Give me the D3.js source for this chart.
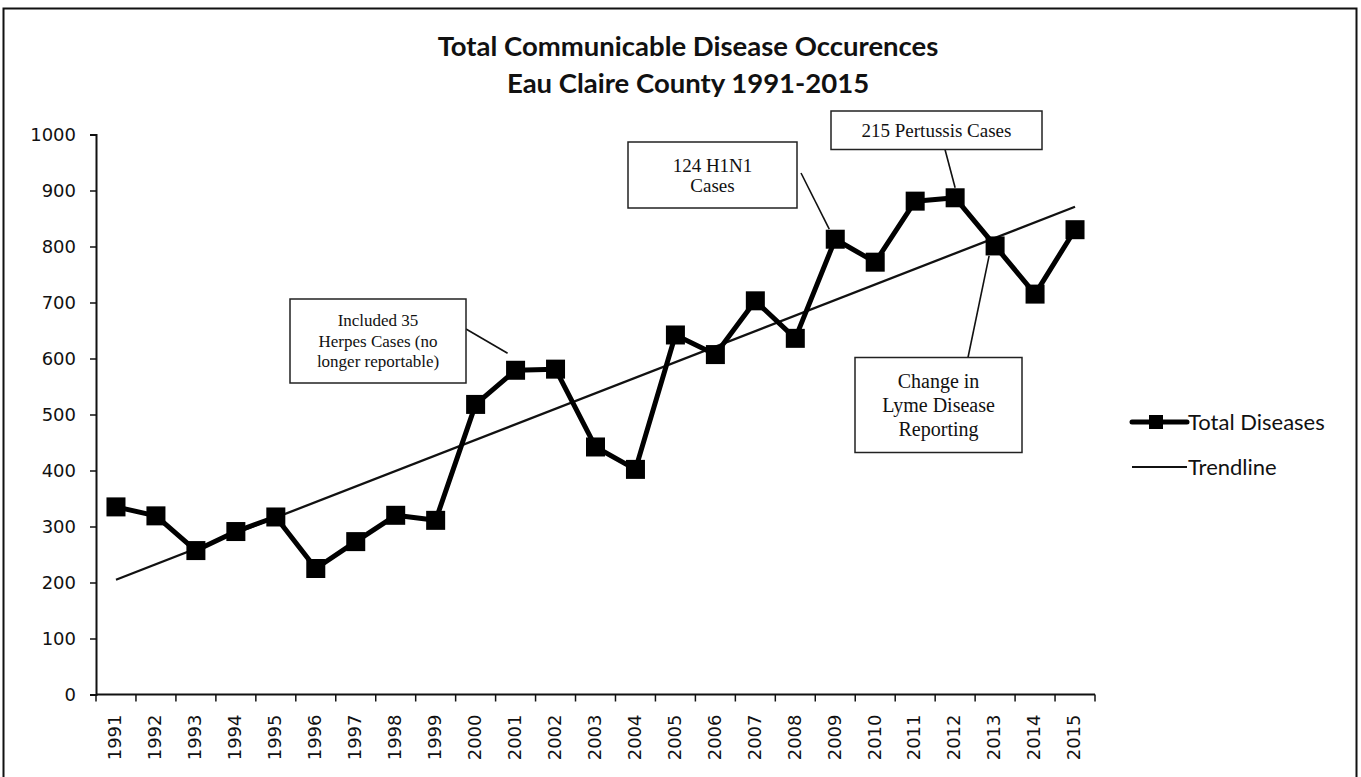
<!DOCTYPE html>
<html>
<head>
<meta charset="utf-8">
<script src="https://cdn.jsdelivr.net/npm/d3@7"></script>
<style>
  html, body { margin: 0; padding: 0; background: #fff; }
  svg { display: block; }
</style>
</head>
<body>
<svg id="main_chart" width="1361" height="777"></svg>
<script>
(function() {
  const years = ['1991', '1992', '1993', '1994', '1995', '1996', '1997', '1998', '1999', '2000',
    '2001', '2002', '2003', '2004', '2005', '2006', '2007', '2008', '2009', '2010',
    '2011', '2012', '2013', '2014', '2015'];
  const total_diseases = [335, 319, 257, 291, 317, 225, 273, 320, 311, 518,
    579, 581, 442, 402, 642, 607, 703, 636, 813, 772,
    881, 887, 801, 715, 830];
  // trendline as drawn in the original (ends)
  const trend_years = ['1991', '2015'];
  const trend_values = [205, 871];
  const y_ticks = [0, 100, 200, 300, 400, 500, 600, 700, 800, 900, 1000];
  const title_lines = ['Total Communicable Disease Occurences', 'Eau Claire County 1991-2015'];

  const svg = d3.select('#main_chart');

  // outer frame of the scanned chart
  svg.append('rect').attr('x', 3.5).attr('y', 8.5).attr('width', 1353).attr('height', 790)
    .attr('fill', 'none').attr('stroke', '#111').attr('stroke-width', 2);

  const xScale = d3.scaleBand().domain(years).range([96, 1095]);
  const yScale = d3.scaleLinear().domain([0, 1000]).range([694.5, 134.5]);
  const cx = function(yr) { return xScale(yr) + xScale.bandwidth() / 2; };

  svg.selectAll('text.title').data(title_lines).enter().append('text')
    .attr('class', 'title')
    .attr('x', 688).attr('y', function(d, i) { return 56 + i * 37; })
    .attr('text-anchor', 'middle')
    .style('font-family', 'Lato, "Open Sans", sans-serif')
    .style('font-weight', 'bold').style('font-size', '27.5px').attr('fill', '#111')
    .text(function(d) { return d; });

  // y axis
  const yAxis = svg.append('g').attr('transform', 'translate(96,0)')
    .call(d3.axisLeft(yScale).tickValues(y_ticks).tickSize(6).tickPadding(14).tickFormat(d3.format('d')));
  yAxis.select('.domain').attr('stroke', '#111').attr('stroke-width', 2);
  yAxis.selectAll('.tick line').attr('stroke', '#111').attr('stroke-width', 1.5);
  yAxis.selectAll('.tick text').style('font-family', '"DejaVu Sans", sans-serif')
    .style('font-size', '18px').attr('fill', '#111');

  // x axis, ticks between categories
  const x_axis_g = svg.append('g').attr('class', 'x_axis');
  x_axis_g.append('line').attr('x1', 96).attr('x2', 1095)
    .attr('y1', yScale(0)).attr('y2', yScale(0)).attr('stroke', '#111').attr('stroke-width', 2);
  x_axis_g.selectAll('line.x_tick').data(years.concat(['end'])).enter().append('line')
    .attr('class', 'x_tick')
    .attr('x1', function(d, i) { return i < years.length ? xScale(d) : xScale.range()[1]; })
    .attr('x2', function(d, i) { return i < years.length ? xScale(d) : xScale.range()[1]; })
    .attr('y1', yScale(0)).attr('y2', yScale(0) + 7)
    .attr('stroke', '#111').attr('stroke-width', 1.5);
  x_axis_g.selectAll('text.x_label').data(years).enter().append('text')
    .attr('class', 'x_label')
    .attr('transform', function(d) { return 'translate(' + (cx(d) - 1) + ',' + (yScale(0) + 20) + ') rotate(-90)'; })
    .attr('text-anchor', 'end').attr('dy', '0.35em')
    .style('font-family', '"DejaVu Sans", sans-serif').style('font-size', '18px').attr('fill', '#111')
    .text(function(d) { return d; });

  // trendline
  const trend_line = d3.line().x(function(d) { return cx(d[0]); }).y(function(d) { return yScale(d[1]); });
  svg.append('path').datum(d3.zip(trend_years, trend_values)).attr('d', trend_line)
    .attr('fill', 'none').attr('stroke', '#111').attr('stroke-width', 2.3);

  // total diseases series
  const series = d3.zip(years, total_diseases);
  svg.append('path').datum(series).attr('d', trend_line)
    .attr('fill', 'none').attr('stroke', '#000').attr('stroke-width', 5).attr('stroke-linejoin', 'round');
  const marker_size = 19;
  svg.selectAll('rect.marker').data(series).enter().append('rect')
    .attr('class', 'marker')
    .attr('x', function(d) { return cx(d[0]) - marker_size / 2; })
    .attr('y', function(d) { return yScale(d[1]) - marker_size / 2; })
    .attr('width', marker_size).attr('height', marker_size).attr('fill', '#000');

  // callout boxes
  const notes = [
    { box: [290, 299, 176, 84], lines: ['Included 35', 'Herpes Cases (no', 'longer reportable)'], size: 17, lh: 20.5,
      from: [466, 329], to: ['2001', 579, -8, -17] },
    { box: [628, 142, 169, 66], lines: ['124 H1N1', 'Cases'], size: 19, lh: 20,
      from: [801, 173], to: ['2009', 813, -6, -10] },
    { box: [831, 111, 211, 38.5], lines: ['215 Pertussis Cases'], size: 19, lh: 20,
      from: [945, 149.5], to: ['2012', 887, 0, -10] },
    { box: [855, 357.5, 167, 95], lines: ['Change in', 'Lyme Disease', 'Reporting'], size: 20, lh: 24,
      from: [968, 357.5], to: ['2013', 801, -6, 10] }
  ];
  const note_g = svg.selectAll('g.note').data(notes).enter().append('g').attr('class', 'note');
  note_g.append('line')
    .attr('x1', function(d) { return d.from[0]; }).attr('y1', function(d) { return d.from[1]; })
    .attr('x2', function(d) { return cx(d.to[0]) + d.to[2]; })
    .attr('y2', function(d) { return yScale(d.to[1]) + d.to[3]; })
    .attr('stroke', '#111').attr('stroke-width', 1.6);
  note_g.append('rect')
    .attr('x', function(d) { return d.box[0]; }).attr('y', function(d) { return d.box[1]; })
    .attr('width', function(d) { return d.box[2]; }).attr('height', function(d) { return d.box[3]; })
    .attr('fill', '#fff').attr('stroke', '#222').attr('stroke-width', 1.5);
  note_g.each(function(d) {
    const g = d3.select(this);
    const mid_y = d.box[1] + d.box[3] / 2;
    const first = mid_y - (d.lines.length - 1) * d.lh / 2;
    g.selectAll('text').data(d.lines).enter().append('text')
      .attr('x', d.box[0] + d.box[2] / 2)
      .attr('y', function(t, i) { return first + i * d.lh; })
      .attr('dy', '0.35em').attr('text-anchor', 'middle')
      .style('font-family', '"Liberation Serif", "Times New Roman", serif')
      .style('font-size', d.size + 'px').attr('fill', '#111')
      .text(function(t) { return t; });
  });

  // legend
  const legend = svg.append('g').attr('class', 'legend');
  legend.append('line').attr('x1', 1132).attr('x2', 1187).attr('y1', 422).attr('y2', 422)
    .attr('stroke', '#000').attr('stroke-width', 5).attr('stroke-linecap', 'round');
  legend.append('rect').attr('x', 1149).attr('y', 415).attr('width', 14).attr('height', 14).attr('fill', '#000');
  legend.append('line').attr('x1', 1132).attr('x2', 1187).attr('y1', 467).attr('y2', 467)
    .attr('stroke', '#111').attr('stroke-width', 2);
  legend.selectAll('text').data(['Total Diseases', 'Trendline']).enter().append('text')
    .attr('x', 1188).attr('y', function(d, i) { return 422 + i * 45; }).attr('dy', '0.35em')
    .style('font-family', 'Lato, "Open Sans", sans-serif').style('font-size', '22px').attr('fill', '#111')
    .text(function(d) { return d; });
}());
</script>
</body>
</html>
